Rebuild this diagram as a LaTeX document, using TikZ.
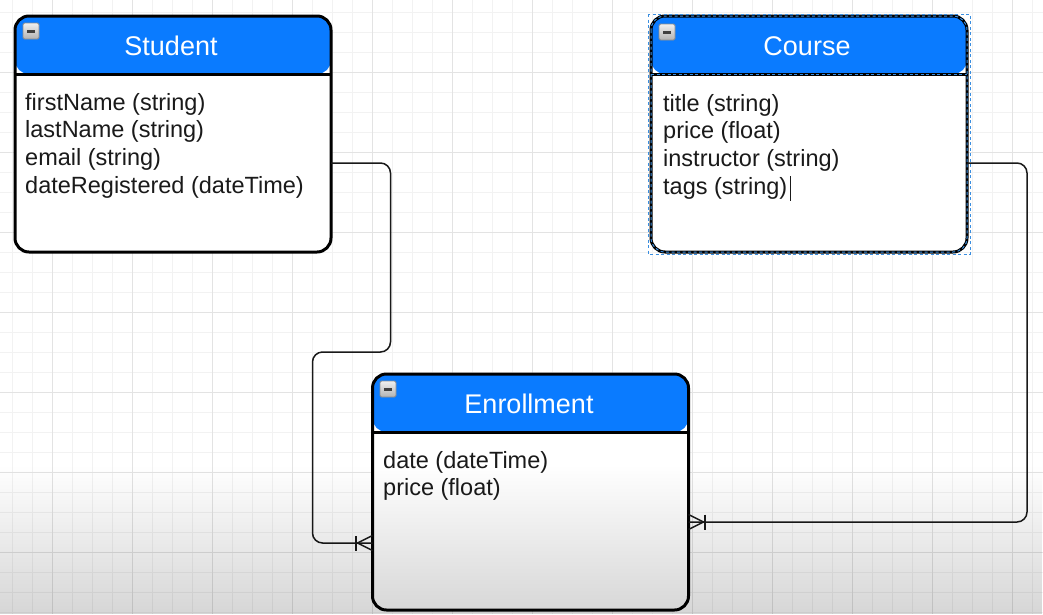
\documentclass[tikz,border=0pt]{standalone}
\usepackage{fontspec}
\setmainfont{Liberation Sans}
\usetikzlibrary{calc,fadings}

\definecolor{hdrblue}{HTML}{0A7BFF}
\definecolor{gridminor}{HTML}{F2F2F2}
\definecolor{gridmajor}{HTML}{E3E3E3}
\definecolor{selblue}{HTML}{3A8EE0}
\definecolor{ink}{HTML}{1A1A1A}

\tikzset{
  % entity box: white body, blue header band and divider line
  entity/.style={rounded corners=14pt, fill=white,
    minimum width=316pt, minimum height=236pt, inner sep=0pt, outer sep=0pt,
    path picture={
      \fill[hdrblue] (path picture bounding box.north west)
        rectangle ([yshift=-58pt]path picture bounding box.north east);
      \draw[black, line width=3pt]
        ([yshift=-58pt]path picture bounding box.north west)
        -- ([yshift=-58pt]path picture bounding box.north east);
    }},
  outline/.style={draw=black, line width=3pt, rounded corners=14pt},
  title/.style={font=\fontsize{27}{32}\selectfont, text=white, anchor=base, inner sep=0pt},
  attrs/.style={font=\fontsize{23.5}{27.7}\selectfont, text=ink, anchor=base west, inner sep=0pt},
  conn/.style={draw=black!90, line width=1.5pt, rounded corners=10pt},
  footline/.style={draw=black!90, line width=1.5pt},
  minorline/.style={draw=gridminor, line width=0.9pt},
  majorline/.style={draw=gridmajor, line width=0.9pt},
  % small collapse button in the header corner
  collapse/.pic={
    \shade[top color=white!94!black, bottom color=white!70!black, draw=black!45, line width=0.8pt, rounded corners=1.5pt]
      (0,0) rectangle (16,16);
    \fill[black!75] (4,7) rectangle (12,9.5);
  },
  % "one or many" end: bar plus crow's foot touching the entity edge
  crowfoot/.pic={
    \draw[footline] (0,-7.5) -- (15,0) -- (0,7.5);
    \draw[footline] (16.5,-7.5) -- (16.5,7.5);
  }
}

\begin{document}
\begin{tikzpicture}[x=1pt, y=-1pt]
  \useasboundingbox (0,0) rectangle (1043,614);
  \fill[white] (0,0) rectangle (1043,614);

  % canvas grid
  \foreach \x in {12,32,...,1042} \draw[minorline] (\x,0) -- (\x,614);
  \foreach \y in {12,32,...,613} \draw[minorline] (0,\y) -- (1043,\y);
  \foreach \x in {52,132,...,1042} \draw[majorline] (\x,0) -- (\x,614);
  \foreach \y in {72,152,...,613} \draw[majorline] (0,\y) -- (1043,\y);

  % entities
  \node[entity] (stu) at (173,134) {};
  \node[entity] (crs) at (809,134) {};
  \node[entity] (enr) at (530.5,492) {};
  \foreach \e in {stu,crs,enr}
    \draw[outline] (\e.north west) rectangle (\e.south east);

  \pic at (23,23) {collapse};
  \pic at (659,24) {collapse};
  \pic at (380,381) {collapse};

  \node[title] (stuT) at (171,55) {Student};
  \node[title] (crsT) at (807,55) {Course};
  \node[title] (enrT) at (529,413) {Enrollment};

  \node[attrs] (stuA) at (25,110) {\begin{tabular}[t]{@{}l@{}}firstName (string)\\ lastName (string)\\ email (string)\\ dateRegistered (dateTime)\end{tabular}};
  \node[attrs] (crsA) at (663,111) {\begin{tabular}[t]{@{}l@{}}title (string)\\ price (float)\\ instructor (string)\\ tags (string)\end{tabular}};
  \node[attrs] (enrA) at (383,468) {\begin{tabular}[t]{@{}l@{}}date (dateTime)\\ price (float)\end{tabular}};

  % text caret after the last Course attribute
  \draw[ink, line width=1pt] (790,176) -- (790,201);

  % selection outline on Course
  \draw[selblue, line width=1pt, dash pattern=on 3pt off 2.5pt, rounded corners=14pt]
    (crs.north west) rectangle (crs.south east);
  \draw[selblue, line width=1pt, dash pattern=on 3pt off 2.5pt]
    ([yshift=-58pt]crs.north west) -- ([yshift=-58pt]crs.north east);
  \draw[selblue, line width=1pt, dash pattern=on 3pt off 2.5pt]
    ([shift={(-3pt,2pt)}]crs.north west) rectangle ([shift={(3pt,-2pt)}]crs.south east);

  % relationships
  \draw[conn] ([yshift=-29pt]stu.east) -- ++(59.5,0) -- ++(0,189) -- ++(-78,0) -- ++(0,191)
    -- ([yshift=-51pt]enr.west);
  \pic[rotate=180] at ([yshift=-51pt]enr.west) {crowfoot};

  \draw[conn] ([yshift=-29pt]crs.east) -- ++(60,0) -- ++(0,359) -- ([yshift=-30pt]enr.east);
  \pic at ([yshift=-30pt]enr.east) {crowfoot};

  % darkening toward the lower edge
  \fill[black, fill opacity=0.16, path fading=north] (0,465) rectangle (1043,614);
\end{tikzpicture}
\end{document}
